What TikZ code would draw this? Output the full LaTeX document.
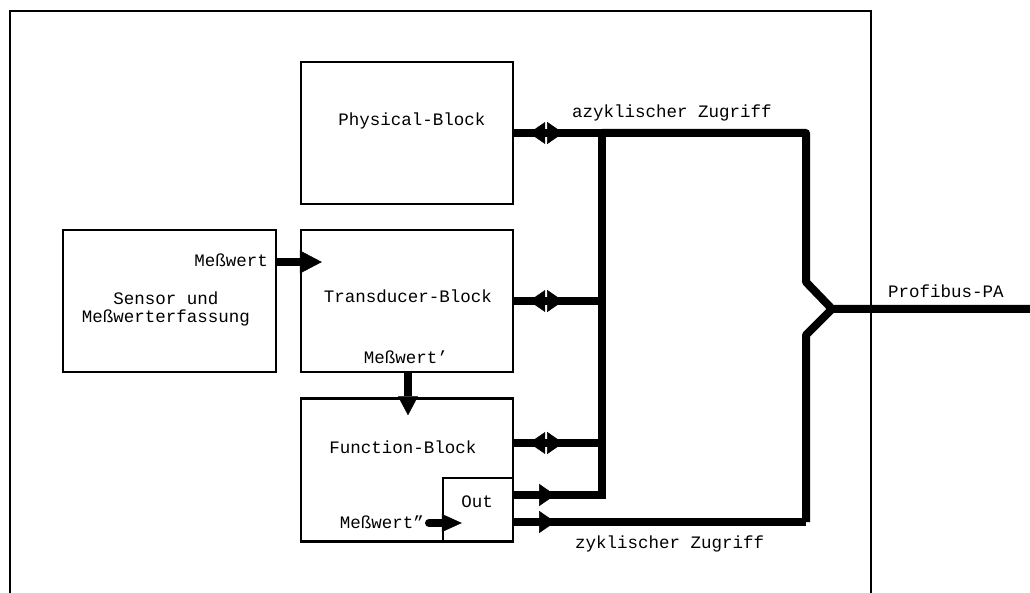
\documentclass[tikz,border=0pt]{standalone}
\usepackage{fontspec}
\setmainfont{Liberation Mono}
\usetikzlibrary{arrows.meta,decorations.markings,calc}
\tikzset{
  blockbox/.style={draw, line width=2.4pt, minimum width=212pt, minimum height=142pt, inner sep=0pt},
  outbox/.style={draw, line width=2.4pt, minimum width=70pt, minimum height=64pt, inner sep=0pt},
  lbl/.style={font=\fontsize{17.5}{18}\selectfont, inner sep=0pt},
  bus/.style={line width=8pt, line join=round},
  frameline/.style={line width=1.5pt},
  bigtip/.tip={Triangle[length=22pt,width=23pt,line width=0.5pt]},
  midtip/.tip={Triangle[length=19pt,width=20pt,line width=0.5pt]},
  smalltip/.tip={Triangle[length=20pt,width=18pt,line width=0.5pt]},
  bitip/.tip={Triangle[length=16pt,width=22pt,line width=0.5pt]},
  bidir/.style={bus, postaction={decorate, decoration={markings,
      mark=at position 15pt with {\arrowreversed{bitip}},
      mark=at position 49pt with {\arrow{bitip}}}}},
  outdir/.style={bus, postaction={decorate, decoration={markings,
      mark=at position 41pt with {\arrow{bitip}}}}},
}
\begin{document}
\begin{tikzpicture}[x=1pt,y=-1pt]
\useasboundingbox (0,0) rectangle (1030,593);
% frame
\draw[frameline] (10,593) -- (10,11) -- (871,11) -- (871,593);

% blocks
\node[blockbox] (phys) at (407,133) {};
\node[blockbox, minimum width=213pt] (sensor) at (169.5,301) {};
\node[blockbox] (trans) at (407,301) {};
\node[blockbox, minimum height=143pt] (func) at (407,470) {};
\node[outbox] (out) at (478,510) {};

% labels
\node[lbl, anchor=base] (physT) at (412,126) {Physical-Block};
\node[lbl, anchor=base] (transT) at (408,303) {Transducer-Block};
\node[lbl, anchor=base] (funcT) at (403,453) {Function-Block};
\node[lbl, anchor=base] (outT) at (477,507) {Out};
\node[lbl, anchor=base east] (mw0) at (268,267) {Meßwert};
\node[lbl, anchor=base] (mw1) at (406,363) {Meßwert’};
\node[lbl, anchor=base east] (mw2) at (424,528) {Meßwert”};
\node[lbl, align=center] (sensT) at (166,309) {Sensor und\\Meßwerterfassung};
\node[lbl, anchor=base west] (azyk) at (572,118) {azyklischer Zugriff};
\node[lbl, anchor=base west] (zyk) at (575,548) {zyklischer Zugriff};
\node[lbl, anchor=base west] (pbus) at (888,298) {Profibus-PA};

% coordinates of the bus
\coordinate (b1) at (602,133);
\coordinate (b2) at (602,301);
\coordinate (b3) at (602,443);
\coordinate (b4) at (602,495);
\coordinate (tr) at (806,133);
\coordinate (k1) at (806,282);
\coordinate (tip) at (832,309);
\coordinate (k2) at (806,335);
\coordinate (br) at (806,522);
\coordinate (pend) at (1030,309);
\coordinate (m2s) at (429,523);

% internal arrows
\draw[bus, -{bigtip}] ($(sensor.east)+(0,-39)$) -- ($(trans.west)+(22,-39)$);
\draw[bus, -{midtip}] ($(trans.south)+(1,0)$) -- ($(func.north)+(1,18)$);
\draw[bus, line cap=round, -{smalltip}] (m2s) -- ($(out.west)+(20,13)$);

% bus lines
\draw[bus] (b1) -- (tr) -- (k1) -- (tip) -- (pend);
\draw[bus] (tip) -- (k2) -- (br);
\draw[bus, line cap=rect] (b1) -- (b4);
\draw[bidir] (phys.east) -- (b1);
\draw[bidir] (trans.east) -- (b2);
\draw[bidir] ($(func.east)+(0,-27)$) -- (b3);
\draw[outdir] ($(out.east)+(0,-15)$) -- (b4);
\draw[outdir] ($(out.east)+(0,12)$) -- (br);
\end{tikzpicture}
\end{document}
